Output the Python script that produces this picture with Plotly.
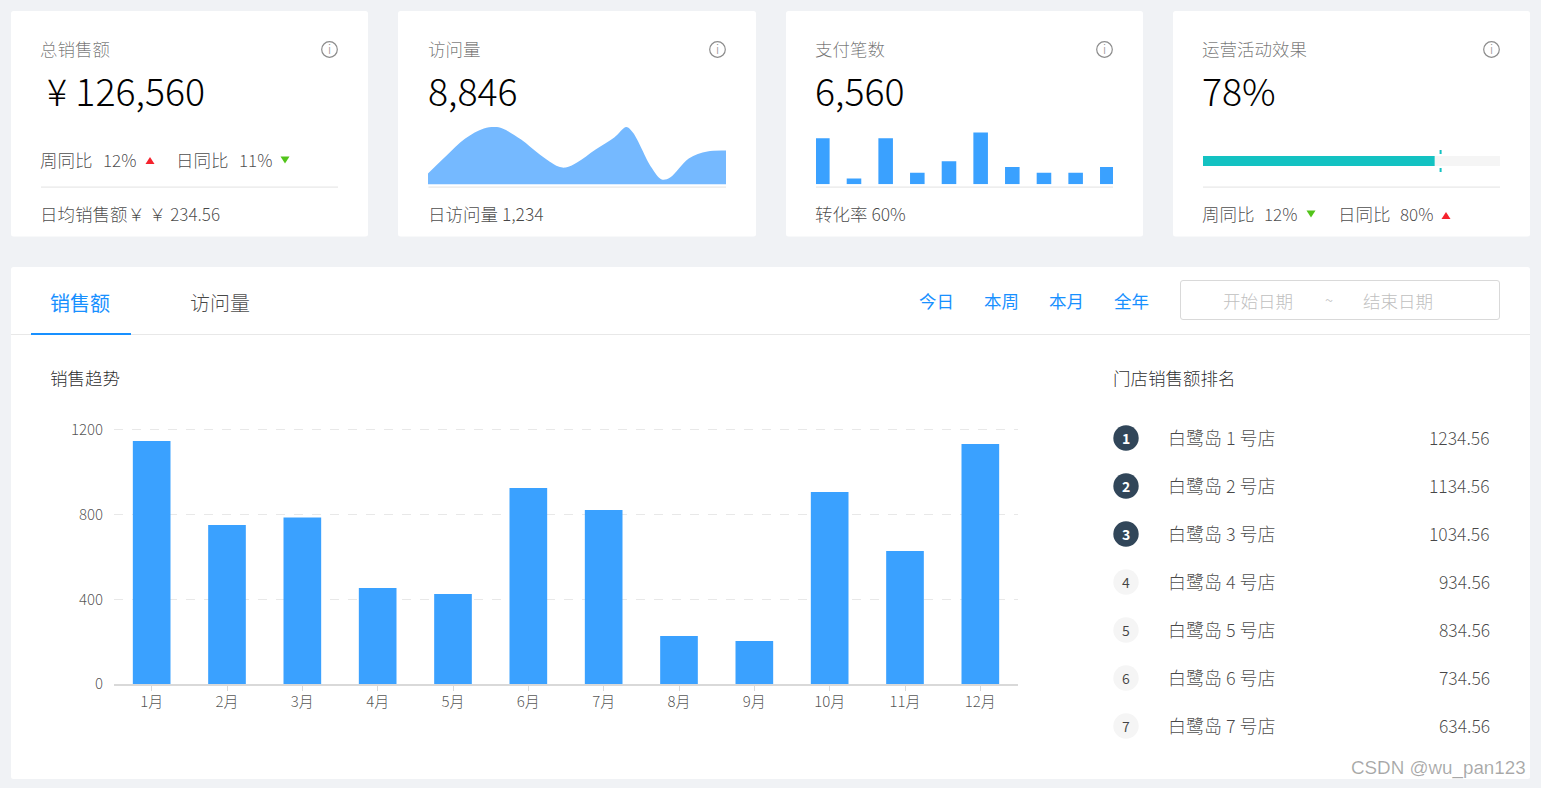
import plotly.graph_objects as go

W, H = 1541, 788
FONT = "Noto Sans CJK SC, Microsoft YaHei, sans-serif"
LIGHT = 300

months = ["1月","2月","3月","4月","5月","6月","7月","8月","9月","10月","11月","12月"]
sales = [1148, 751, 787, 454, 425, 926, 822, 227, 203, 907, 628, 1134]
y_ticks = [0, 400, 800, 1200]

visit_x = [0, 1, 2, 3, 3.6, 4, 5, 6, 7, 7.4, 8, 9, 10, 10.65, 11, 12, 12.55, 13, 14, 15, 16]
visit_y = [11, 29, 46, 56, 57.5, 56, 45, 30, 18, 17, 22, 35, 47, 57.5, 52, 17, 5, 7, 26, 33, 34]

pay_x = list(range(10))
pay_y = [8, 1, 8, 2, 4, 9, 3, 2, 2, 3]

progress_value = [78]
progress_target = [80]

card_titles = ["总销售额", "访问量", "支付笔数", "运营活动效果"]
card_values = ["¥ 126,560", "8,846", "6,560", "78%"]
card_footers = ["日均销售额￥ ￥ <span style='font-size:17px'>234.56</span>", "日访问量 <span style='font-size:17.5px'>1,234</span>", "转化率 <span style='font-size:17.5px'>60%</span>"]
range_labels = ["今日", "本周", "本月", "全年"]
store_names = ["白鹭岛 %d 号店" % i for i in range(1, 8)]
store_values = ["1234.56", "1134.56", "1034.56", "934.56", "834.56", "734.56", "634.56"]


def px(x):
    return x / W


def py(y):
    return 1 - y / H


shapes, anns = [], []


def rect(x0, y0, x1, y1, fill, line=None, r=0, lw=1):
    if r:
        path = (f"M{px(x0+r)},{py(y0)} L{px(x1-r)},{py(y0)} Q{px(x1)},{py(y0)} {px(x1)},{py(y0+r)} "
                f"L{px(x1)},{py(y1-r)} Q{px(x1)},{py(y1)} {px(x1-r)},{py(y1)} L{px(x0+r)},{py(y1)} "
                f"Q{px(x0)},{py(y1)} {px(x0)},{py(y1-r)} L{px(x0)},{py(y0+r)} Q{px(x0)},{py(y0)} {px(x0+r)},{py(y0)} Z")
        shapes.append(dict(type="path", path=path, xref="paper", yref="paper", fillcolor=fill,
                           line=dict(color=line or "rgba(0,0,0,0)", width=lw if line else 0), layer="below"))
    else:
        shapes.append(dict(type="rect", x0=px(x0), x1=px(x1), y0=py(y0), y1=py(y1), xref="paper", yref="paper",
                           fillcolor=fill, line=dict(width=0), layer="below"))


def circle(cx, cy, r, fill, line=None, lw=1):
    shapes.append(dict(type="circle", x0=px(cx-r), x1=px(cx+r), y0=py(cy-r), y1=py(cy+r), xref="paper", yref="paper",
                       fillcolor=fill, line=dict(color=line or "rgba(0,0,0,0)", width=lw if line else 0), layer="below"))


def tri(cx, cy, up, color):
    w, h = 4.5, 3.5
    s = 1 if up else -1
    path = f"M{px(cx-w)},{py(cy+s*h)} L{px(cx+w)},{py(cy+s*h)} L{px(cx)},{py(cy-s*h)} Z"
    shapes.append(dict(type="path", path=path, xref="paper", yref="paper", fillcolor=color, line=dict(width=0), layer="below"))


def text(x, y, s, size=17.5, color="rgba(0,0,0,0.72)", anchor="left", family=FONT, weight=LIGHT):
    f = dict(size=size, color=color, family=family, weight=weight)
    dx = -0.8 if anchor == "left" else 0
    anns.append(dict(x=px(x + dx), y=py(y - 1), xref="paper", yref="paper", text=s, showarrow=False, xanchor=anchor,
                     yanchor="middle", font=f, borderpad=0, borderwidth=0, align=anchor))


GREY = "rgba(0,0,0,0.55)"
TXT = "rgba(0,0,0,0.72)"
BLUE = "#1890ff"
RED = "#f5222d"
GREEN = "#52c41a"

# cards
cards = [(11, 368), (398, 756), (786, 1143), (1173, 1530)]
lefts = [41, 428.5, 816, 1203]
rights = [338, 726, 1113, 1500]
for i, (x0, x1) in enumerate(cards):
    rect(x0, 11, x1, 236.5, "#ffffff", r=2.5)
    text(lefts[i], 49.5, card_titles[i], color=GREY)
    text(lefts[i] + (7 if i == 0 else 0), 91, card_values[i], size=37.5, color="rgba(0,0,0,1)")
    rect(lefts[i], 186.6, rights[i], 187.8, "#e8e8e8")
    circle(rights[i] - 8.5, 49.5, 7.8, "rgba(0,0,0,0)", line="#8c8c8c", lw=1.2)
    text(rights[i] - 8.5, 50, "i", size=12, color="#8c8c8c", anchor="center")
    if i < 3:
        text(lefts[i], 214, card_footers[i])

# first card comparison row
text(41, 160, "周同比")
text(104, 160, "12%", size=17, color=TXT)
tri(150, 160.5, True, RED)
text(177, 160, "日同比")
text(240, 160, "11%", size=17, color=TXT)
tri(285, 160, False, GREEN)
# fourth card comparison row
text(1203, 214.5, "周同比")
text(1265, 214.5, "12%", size=17)
tri(1311, 214, False, GREEN)
text(1339, 214.5, "日同比")
text(1401, 214.5, "80%", size=17)
tri(1446, 215.5, True, RED)

# main panel
rect(11, 267, 1530, 779, "#ffffff", r=2.5)
rect(11, 334, 1530, 335, "#e8e8e8")
rect(31, 333, 131, 335, BLUE)
text(51, 303, "销售额", size=20, color=BLUE, weight=400)
text(191, 303, "访问量", size=20)
for x, s in zip([920, 985, 1050, 1115], range_labels):
    text(x, 301.5, s, color=BLUE, weight=400)
rect(1180.5, 280.5, 1499.5, 319.5, "#ffffff", line="#d9d9d9", r=2.5)
text(1224, 301.5, "开始日期", color="#bfbfbf")
text(1329, 300, "~", color="#bfbfbf", anchor="center", size=15)
text(1364, 301.5, "结束日期", color="#bfbfbf")
text(51, 378.5, "销售趋势", color="rgba(0,0,0,0.85)")
text(1114, 378.5, "门店销售额排名", color="rgba(0,0,0,0.85)")

for i, (n, v) in enumerate(zip(store_names, store_values)):
    y = 438 + 48 * i
    top = i < 3
    circle(1126, y, 12.7, "#314659" if top else "#f5f5f5")
    text(1126, y + 1, str(i + 1), size=14, color="#ffffff" if top else TXT, anchor="center", weight=700 if top else 400)
    text(1169, y, n, size=18)
    text(1490, y, v, size=17.5, anchor="right")

text(1526, 769, "CSDN @wu_pan123", size=18.8, color="rgba(0,0,0,0.34)", anchor="right", family="Liberation Sans, Arial, sans-serif", weight=400)

fig = go.Figure()
fig.add_bar(x=months, y=sales, marker=dict(color="#3aa1ff", line=dict(width=0)), xaxis="x", yaxis="y", hoverinfo="skip")
fig.add_scatter(x=visit_x, y=visit_y, mode="lines", line=dict(shape="spline", smoothing=1, color="#75b9ff", width=0),
                fill="tozeroy", fillcolor="#75b9ff", xaxis="x2", yaxis="y2", hoverinfo="skip")
fig.add_bar(x=pay_x, y=pay_y, width=0.46, marker=dict(color="#3aa1ff", line=dict(width=0)), xaxis="x3", yaxis="y3", hoverinfo="skip")
fig.add_bar(x=[100], y=[0], orientation="h", base=0, width=1, marker=dict(color="#f5f5f5", line=dict(width=0)), xaxis="x4", yaxis="y4", hoverinfo="skip")
fig.add_bar(x=progress_value, y=[0], orientation="h", width=1, marker=dict(color="#13c2c2", line=dict(width=0)), xaxis="x4", yaxis="y4", hoverinfo="skip")
fig.add_scatter(x=progress_target * 2, y=[-1.1, 1.1], mode="lines", line=dict(color="#13c2c2", width=2, dash="4px,14px,4px"), xaxis="x5", yaxis="y5", hoverinfo="skip")

hidden = dict(visible=False, fixedrange=True)
fig.update_layout(
    width=W, height=H, margin=dict(l=0, r=0, t=0, b=0, autoexpand=False), autosize=False,
    paper_bgcolor="#f0f2f5", plot_bgcolor="rgba(0,0,0,0)", showlegend=False,
    barmode="overlay", bargap=0.5, font=dict(family=FONT),
    shapes=shapes, annotations=anns,
    xaxis=dict(domain=[px(114), px(1018)], type="category", showgrid=False, showline=True, linecolor="#d9d9d9", linewidth=2,
               ticks="outside", ticklen=5, tickcolor="#d9d9d9", tickwidth=1, tickfont=dict(size=15, color="rgba(0,0,0,0.7)", family=FONT, weight=LIGHT),
               anchor="y", fixedrange=True, ticklabelstandoff=-2),
    yaxis=dict(domain=[py(684), py(425.7)], range=[0, 1220], tickvals=y_ticks, showline=False, zeroline=False, showgrid=True,
               gridcolor="#e8e8e8", griddash="dash", gridwidth=1, tickfont=dict(size=15, color="rgba(0,0,0,0.7)", family=FONT, weight=LIGHT),
               ticks="", anchor="x", fixedrange=True, ticklabelstandoff=10),
    xaxis2=dict(domain=[px(428), px(726)], range=[0, 16], anchor="y2", **hidden),
    yaxis2=dict(domain=[py(184.5), py(124.5)], range=[0, 60], anchor="x2", **hidden),
    xaxis3=dict(domain=[px(816), px(1113)], range=[-0.2, 9.18], anchor="y3", **hidden),
    yaxis3=dict(domain=[py(184.3), py(126.8)], range=[0, 10], anchor="x3", **hidden),
    xaxis4=dict(domain=[px(1203), px(1500)], range=[0, 100], anchor="y4", **hidden),
    yaxis4=dict(domain=[py(166), py(156)], range=[-0.5, 0.5], anchor="x4", **hidden),
    xaxis5=dict(domain=[px(1203), px(1500)], range=[0, 100], anchor="y5", **hidden),
    yaxis5=dict(domain=[py(172), py(150)], range=[-1.1, 1.1], anchor="x5", **hidden),
)

fig.write_html("out.html", config=dict(displayModeBar=False),
               post_script="document.body.style.margin='0';document.body.style.overflow='hidden';")
